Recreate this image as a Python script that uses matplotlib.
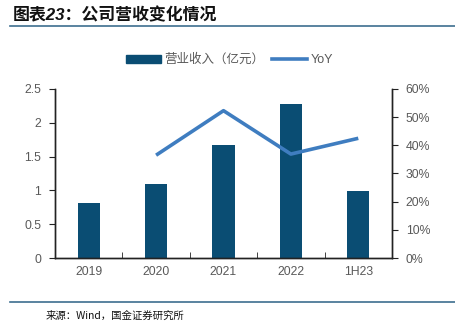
import numpy as np
import matplotlib
matplotlib.use('Agg')
import matplotlib.pyplot as plt
from matplotlib.lines import Line2D

plt.rcParams['font.family'] = ['Liberation Sans', 'Noto Sans CJK SC', 'DejaVu Sans']

# data
periods = ['2019', '2020', '2021', '2022', '1H23']
revenue = [0.81, 1.09, 1.67, 2.28, 0.99]          # 亿元
yoy_periods = ['2020', '2021', '2022', '1H23']
yoy = [36.5, 52.3, 36.9, 42.5]                     # %

bar_color = '#0A4D73'
line_color = '#3F7DC0'
grey = '#595959'

fig = plt.figure(figsize=(4.56, 3.28), dpi=100)
ax = fig.add_axes([0.1206, 0.2134, 0.739, 0.5153])
ax2 = ax.twinx()

x = np.arange(len(periods))
ax.bar(x, revenue, width=0.33, color=bar_color, zorder=2)
xl = [periods.index(p) for p in yoy_periods]
ax2.plot(xl, yoy, color=line_color, lw=2.6, solid_capstyle='butt', zorder=3)

ax.set_xlim(-0.5, len(periods) - 0.5)
ax.set_ylim(0, 2.5)
ax2.set_ylim(0, 60)
ax.set_yticks(np.arange(0, 2.51, 0.5))
ax.set_yticklabels(['0', '0.5', '1', '1.5', '2', '2.5'])
ax2.set_yticks(np.arange(0, 61, 10))
ax2.set_yticklabels([f'{v}%' for v in range(0, 61, 10)])

ax.set_xticks(x)
ax.set_xticklabels(periods)
ax.set_xticks(np.arange(0.5, len(periods) - 0.5, 1), minor=True)
ax.tick_params(axis='x', which='major', length=0, pad=6, colors=grey, labelsize=8.8)
ax.tick_params(axis='x', which='minor', direction='in', length=4, color='#222222')
ax.tick_params(axis='y', length=4, color='#222222', labelcolor=grey, labelsize=8.8, pad=6)
ax2.tick_params(axis='y', length=4, color='#222222', labelcolor=grey, labelsize=8.8, pad=6)

for a in (ax, ax2):
    a.spines['top'].set_visible(False)
    for s in ('left', 'right', 'bottom'):
        a.spines[s].set_color('#222222')
        a.spines[s].set_linewidth(1.0)

handles = [plt.Rectangle((0, 0), 1, 1, color=bar_color),
           Line2D([0], [0], color=line_color, lw=2.6)]
fig.legend(handles, ['营业收入（亿元）', 'YoY'], loc='center', bbox_to_anchor=(0.503, 0.817),
           ncol=2, frameon=False, fontsize=9, labelcolor=grey, handlelength=2.8,
           handleheight=0.6, columnspacing=0.6, handletextpad=0.3)

# title block and footer
fig.text(0.028, 0.955, '图表23：公司营收变化情况', fontsize=12.2, fontweight='bold',
         style='italic', color='#111111', va='center')
fig.add_artist(Line2D([0.022, 1.0], [0.922, 0.922], color='#3D6E8F', lw=1.2))
fig.add_artist(Line2D([0.022, 1.0], [0.079, 0.079], color='#3D6E8F', lw=1.2))
fig.text(0.1, 0.036, '来源：Wind，国金证券研究所', fontsize=7.5, color='#111111', va='center',
         family=['Noto Sans CJK SC', 'DejaVu Sans'])

fig.savefig('out.png', dpi=100)
